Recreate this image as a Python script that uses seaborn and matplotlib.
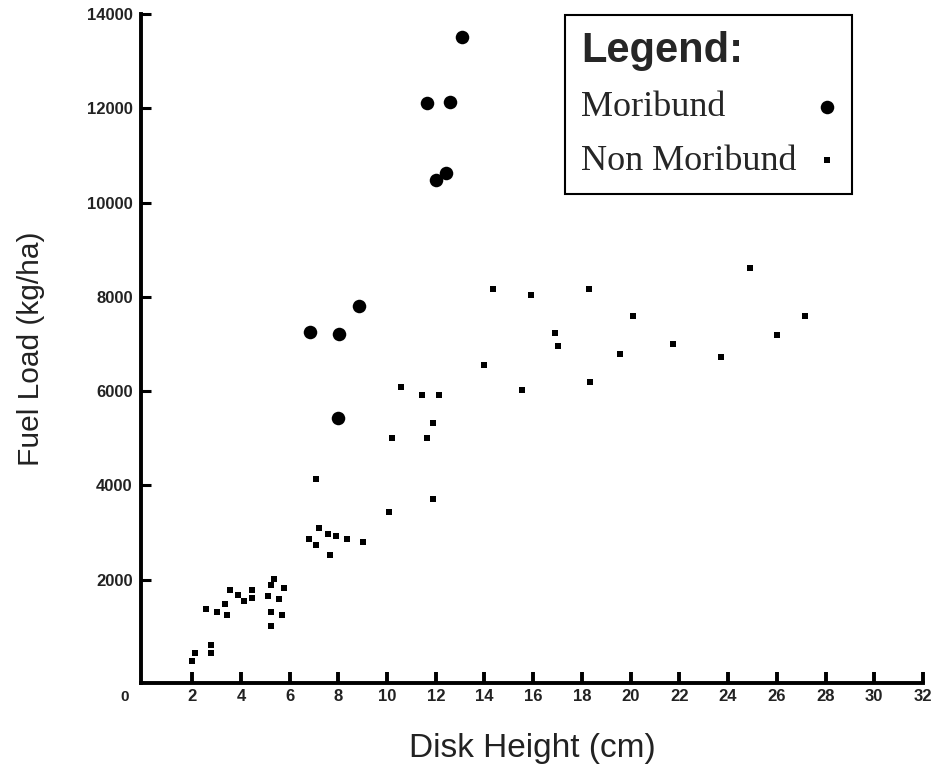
import matplotlib
matplotlib.use("Agg")
import matplotlib.pyplot as plt
import seaborn as sns
import pandas as pd

# ---- data ----
non_x = [3.55, 3.89, 4.12, 4.44, 4.44, 2.56, 3.00, 3.34, 3.45, 5.35, 5.23, 5.78,
         5.11, 5.56, 5.23, 5.67, 5.22, 2.12, 1.99, 2.78, 2.77,
         10.56, 11.44, 12.12, 11.89, 10.22, 11.66, 7.10, 11.89, 10.10, 7.21, 7.56,
         7.90, 8.34, 9.01, 6.78, 7.10, 7.66,
         14.33, 15.89, 18.28, 24.88, 20.11, 27.16, 16.90, 17.00, 26.01, 19.56,
         21.72, 23.72, 14.00, 15.56, 18.33]
non_y = [1772, 1666, 1539, 1772, 1603, 1369, 1312, 1486, 1248, 2006, 1893, 1821,
         1645, 1596, 1312, 1257, 1015, 442, 272, 620, 442,
         6088, 5912, 5912, 5332, 4993, 4993, 4129, 3719, 3435, 3089, 2976,
         2919, 2861, 2806, 2861, 2743, 2515,
         8155, 8041, 8155, 8614, 7582, 7582, 7234, 6945, 7179, 6776,
         7001, 6718, 6542, 6024, 6202]
mor_x = [8.85, 6.83, 8.03, 7.97, 13.07, 11.62, 12.60, 12.00, 12.41]
mor_y = [7801, 7243, 7207, 5430, 13517, 12103, 12138, 10476, 10630]

x_ticks = [2, 4, 6, 8, 10, 12, 14, 16, 18, 20, 22, 24, 26, 28, 30, 32]
y_ticks = [2000, 4000, 6000, 8000, 10000, 12000, 14000]
x_label = "Disk Height (cm)"
y_label = "Fuel Load (kg/ha)"
groups = ["Moribund", "Non Moribund"]

df_mor = pd.DataFrame({"x": mor_x, "y": mor_y})
df_non = pd.DataFrame({"x": non_x, "y": non_y})

sns.set_style("white")
plt.rcParams["font.family"] = ["Liberation Sans", "DejaVu Sans"]

fig = plt.figure(figsize=(9.36, 7.76), dpi=100)
ax = fig.add_axes([141 / 936, 1 - 683 / 776, (923 - 141) / 936, (683 - 14) / 776])

sns.scatterplot(data=df_mor, x="x", y="y", ax=ax, marker="o", s=95,
                color="black", edgecolor="black", linewidth=0, label=groups[0])
sns.scatterplot(data=df_non, x="x", y="y", ax=ax, marker="s", s=13,
                color="black", edgecolor="black", linewidth=0, label=groups[1])

ax.set_xlim(-0.1, 32)
ax.set_ylim(-195, 14000)
ax.set_xticks(x_ticks)
ax.set_yticks(y_ticks)
ax.set_xticklabels([str(t) for t in x_ticks])
ax.set_yticklabels([str(t) for t in y_ticks])

for side in ["top", "right"]:
    ax.spines[side].set_visible(False)
for side in ["left", "bottom"]:
    ax.spines[side].set_color("black")
    ax.spines[side].set_linewidth(2.8)

ax.tick_params(axis="x", bottom=True, direction="in", length=8, width=2.8,
               color="black", pad=4, labelsize=12)
ax.tick_params(axis="y", left=True, direction="in", length=7, width=2.2,
               color="black", pad=6, labelsize=12)
for lab in ax.get_xticklabels() + ax.get_yticklabels():
    lab.set_fontweight("bold")
    lab.set_color("#222222")

ax.annotate("0", xy=(0, 0), xycoords="axes fraction", xytext=(-11.5, -10),
            textcoords="offset points", ha="center", va="center",
            fontsize=11, fontweight="bold", color="#222222")

ax.set_xlabel(x_label, fontsize=24, color="#222222")
ax.set_ylabel(y_label, fontsize=21.5, color="#222222")
ax.xaxis.set_label_coords(0.5, -0.074)
ax.yaxis.set_label_coords(-0.123, 0.5)

handles, labels = ax.get_legend_handles_labels()
leg = ax.legend(handles, labels, loc="upper left",
                bbox_to_anchor=(565 / 936, 1 - 15 / 776),
                bbox_transform=fig.transFigure, borderaxespad=0,
                title="Legend:", alignment="left", markerfirst=False,
                prop={"family": "Liberation Serif", "size": 26},
                title_fontproperties={"family": "Liberation Sans", "weight": "bold", "size": 30},
                handlelength=0.5, handletextpad=0.5, labelspacing=0.56,
                borderpad=0.44, fancybox=False, framealpha=1, edgecolor="black")
leg.get_frame().set_linewidth(1.5)

# left-align the label texts while keeping the markers in a right-hand column
for t in leg.get_texts():
    t.set_horizontalalignment("left")
for column in leg._legend_handle_box.get_children():
    column.width = 255
    column.align = "left"
    for row in column.get_children():
        row.mode = "expand"

fig.savefig("out.png", dpi=100, facecolor="white")
